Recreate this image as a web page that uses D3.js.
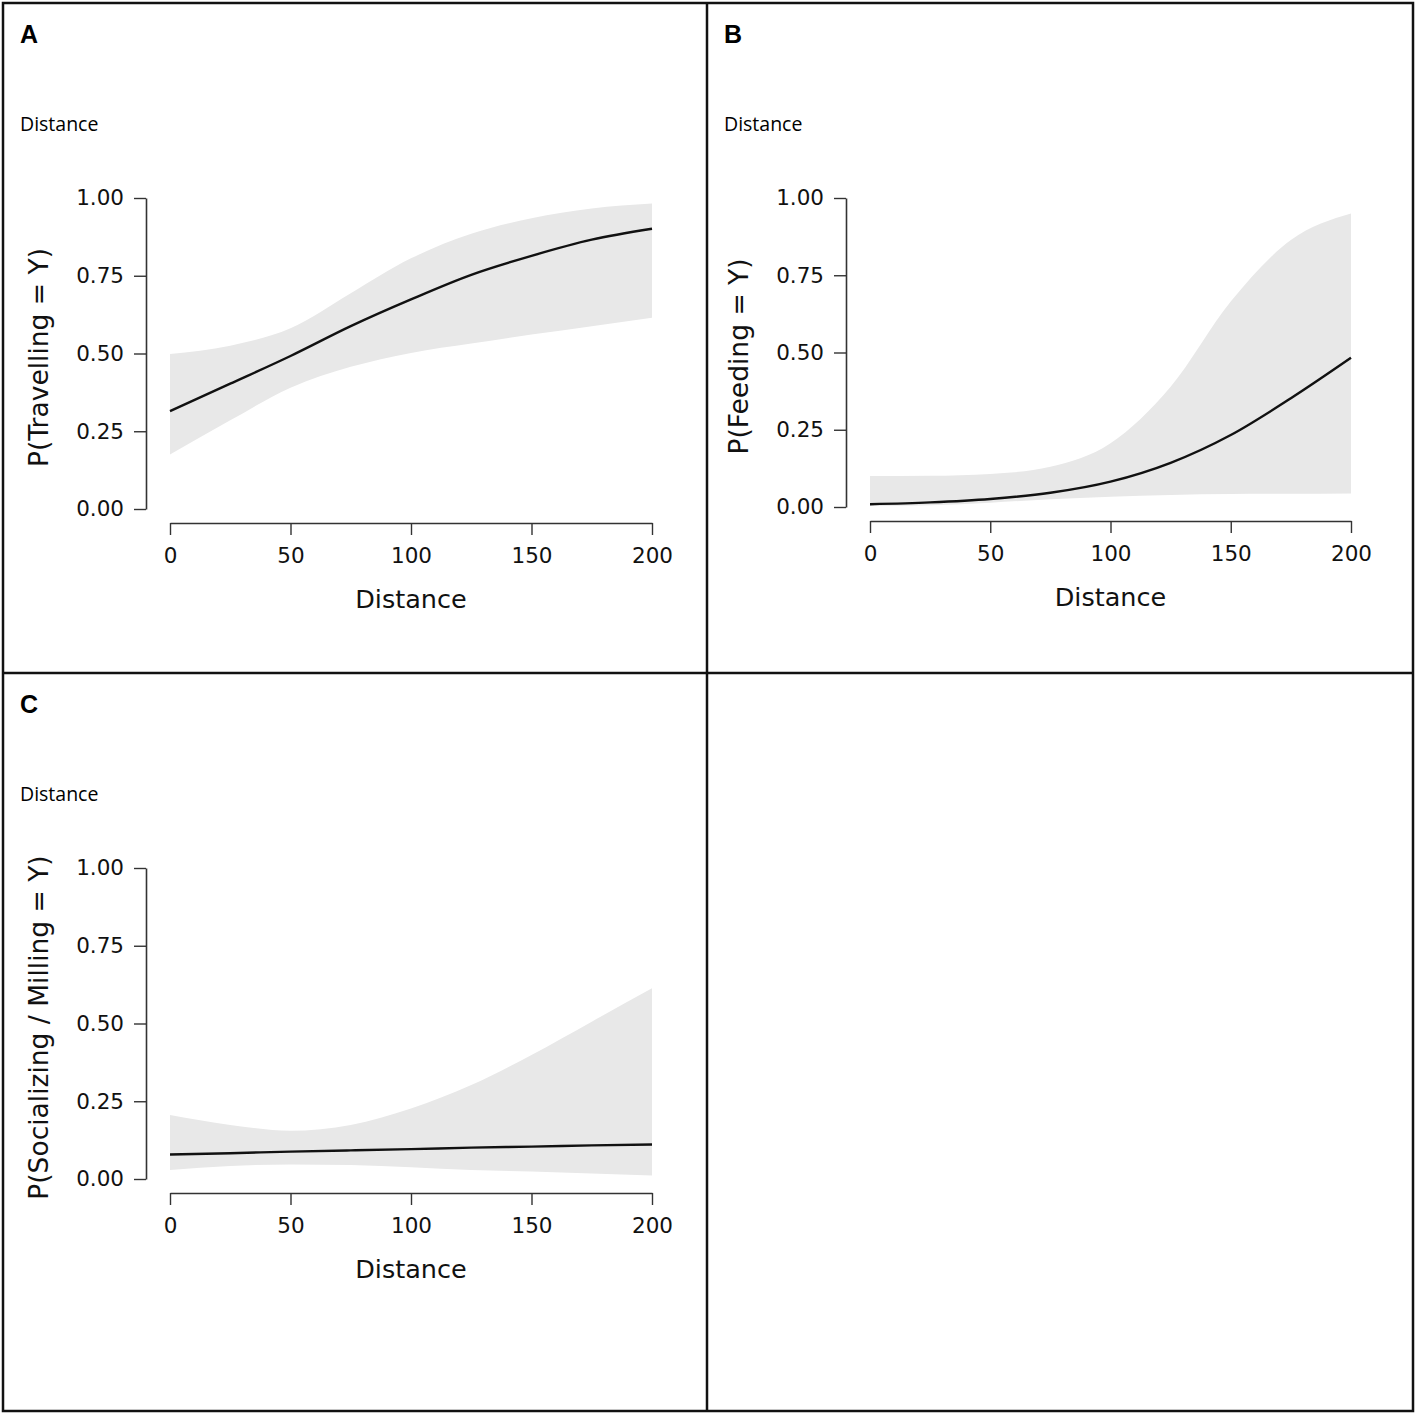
<!DOCTYPE html>
<html>
<head>
<meta charset="utf-8">
<script src="https://cdn.jsdelivr.net/npm/d3@7"></script>
<style>
  body { margin: 0; background: #fff; }
  svg { display: block; }
</style>
</head>
<body>
<div id="chart"></div>
<script>
// distance grid the curves were read at
const distances = [0, 25, 50, 75, 100, 125, 150, 175, 200];
const xTicks = [0, 50, 100, 150, 200];
const yTicks = [0, 0.25, 0.5, 0.75, 1];

// panel A: travelling
const travelFit   = [0.315, 0.403, 0.492, 0.588, 0.674, 0.753, 0.814, 0.866, 0.901];
const travelUpper = [0.498, 0.525, 0.581, 0.694, 0.806, 0.885, 0.935, 0.966, 0.982];
const travelLower = [0.175, 0.285, 0.390, 0.457, 0.502, 0.532, 0.561, 0.588, 0.615];

// panel B: feeding
const feedFit   = [0.009, 0.015, 0.026, 0.046, 0.082, 0.143, 0.233, 0.352, 0.483];
const feedUpper = [0.100, 0.101, 0.107, 0.130, 0.206, 0.389, 0.665, 0.864, 0.950];
const feedLower = [0.003, 0.006, 0.014, 0.025, 0.033, 0.039, 0.042, 0.043, 0.044];

// panel C: socializing / milling
const socialFit   = [0.079, 0.083, 0.088, 0.092, 0.096, 0.101, 0.104, 0.108, 0.111];
const socialUpper = [0.206, 0.174, 0.155, 0.174, 0.227, 0.302, 0.399, 0.506, 0.613];
const socialLower = [0.029, 0.042, 0.047, 0.045, 0.038, 0.029, 0.024, 0.018, 0.011];

const panels = [
  {letter: "A", ylab: "P(Travelling = Y)", fit: travelFit, upper: travelUpper, lower: travelLower,
   px: 3, py: 3, left: 170, right: 652, top: 198, bottom: 509},
  {letter: "B", ylab: "P(Feeding = Y)", fit: feedFit, upper: feedUpper, lower: feedLower,
   px: 707, py: 3, left: 870, right: 1351, top: 198, bottom: 507},
  {letter: "C", ylab: "P(Socializing / Milling = Y)", fit: socialFit, upper: socialUpper, lower: socialLower,
   px: 3, py: 673, left: 170, right: 652, top: 868, bottom: 1179}
];

const W = 1417, H = 1415;
const tickFont = "'DejaVu Sans', Verdana, sans-serif";

const svg = d3.select("#chart").append("svg")
  .attr("width", W)
  .attr("height", H);

svg.append("rect").attr("width", W).attr("height", H).attr("fill", "#fff");

const defs = svg.append("defs");

panels.forEach(function(p, i) {
  const x = d3.scaleLinear().domain([0, 200]).range([p.left, p.right]);
  const y = d3.scaleLinear().domain([0, 1]).range([p.bottom, p.top]);
  const g = svg.append("g");

  // panel letter and the small term label
  g.append("text")
    .attr("x", p.px + 17).attr("y", p.py + 40)
    .attr("font-family", "'Liberation Sans', Arial, sans-serif")
    .attr("font-weight", "bold")
    .attr("font-size", 25)
    .text(p.letter);

  g.append("text")
    .attr("x", p.px + 17).attr("y", p.py + 128)
    .attr("font-family", "'Open Sans', sans-serif")
    .attr("font-size", 19.5)
    .text("Distance");

  const pts = distances.map(function(d, j) {
    return {d: d, fit: p.fit[j], lo: p.lower[j], hi: p.upper[j]};
  });

  // confidence band
  const band = d3.area()
    .x(d => x(d.d))
    .y0(d => y(d.lo))
    .y1(d => y(d.hi))
    .curve(d3.curveMonotoneX);

  g.append("path")
    .datum(pts)
    .attr("d", band)
    .attr("fill", "#e8e8e8");

  const line = d3.line()
    .x(d => x(d.d))
    .y(d => y(d.fit))
    .curve(d3.curveMonotoneX);

  g.append("path")
    .datum(pts)
    .attr("d", line)
    .attr("fill", "none")
    .attr("stroke", "#111")
    .attr("stroke-width", 2.4);

  // y axis, set off to the left of the plot
  const yAxis = g.append("g")
    .attr("transform", "translate(" + (p.left - 24) + ",0)")
    .call(d3.axisLeft(y).tickValues(yTicks).tickFormat(d3.format(".2f"))
      .tickSize(12).tickPadding(10).tickSizeOuter(0));

  // x axis, set off below the plot
  const xAxis = g.append("g")
    .attr("transform", "translate(0," + (p.bottom + 14) + ")")
    .call(d3.axisBottom(x).tickValues(xTicks).tickFormat(d3.format("d"))
      .tickSize(12).tickPadding(13).tickSizeOuter(0));

  [yAxis, xAxis].forEach(function(ax) {
    ax.select(".domain").attr("stroke", "#333").attr("stroke-width", 1.6);
    ax.selectAll(".tick line").attr("stroke", "#333").attr("stroke-width", 1.4);
    ax.selectAll(".tick text")
      .attr("fill", "#111")
      .attr("font-family", tickFont)
      .attr("font-size", 21.5);
  });

  g.append("text")
    .attr("x", (p.left + p.right) / 2)
    .attr("y", p.bottom + 99)
    .attr("text-anchor", "middle")
    .attr("font-family", tickFont)
    .attr("font-size", 25.5)
    .attr("fill", "#111")
    .text("Distance");

  // long labels get cut off at the top, as in the original
  defs.append("clipPath").attr("id", "ylabclip" + i)
    .append("rect")
    .attr("x", p.px).attr("y", p.top - 16)
    .attr("width", 100).attr("height", 600);

  g.append("g").attr("clip-path", "url(#ylabclip" + i + ")")
    .append("text")
    .attr("transform", "translate(" + (p.left - 122) + "," + ((p.top + p.bottom) / 2 + 4) + ") rotate(-90)")
    .attr("text-anchor", "middle")
    .attr("font-family", tickFont)
    .attr("font-size", 26.5)
    .attr("fill", "#111")
    .text(p.ylab);
});

// frame around the panels
svg.append("rect")
  .attr("x", 3).attr("y", 3)
  .attr("width", 1410).attr("height", 1408)
  .attr("fill", "none")
  .attr("stroke", "#111")
  .attr("stroke-width", 2.5);

svg.append("line")
  .attr("x1", 707).attr("x2", 707).attr("y1", 3).attr("y2", 1411)
  .attr("stroke", "#111").attr("stroke-width", 2.5);

svg.append("line")
  .attr("x1", 3).attr("x2", 1413).attr("y1", 673).attr("y2", 673)
  .attr("stroke", "#111").attr("stroke-width", 2.5);
</script>
</body>
</html>
